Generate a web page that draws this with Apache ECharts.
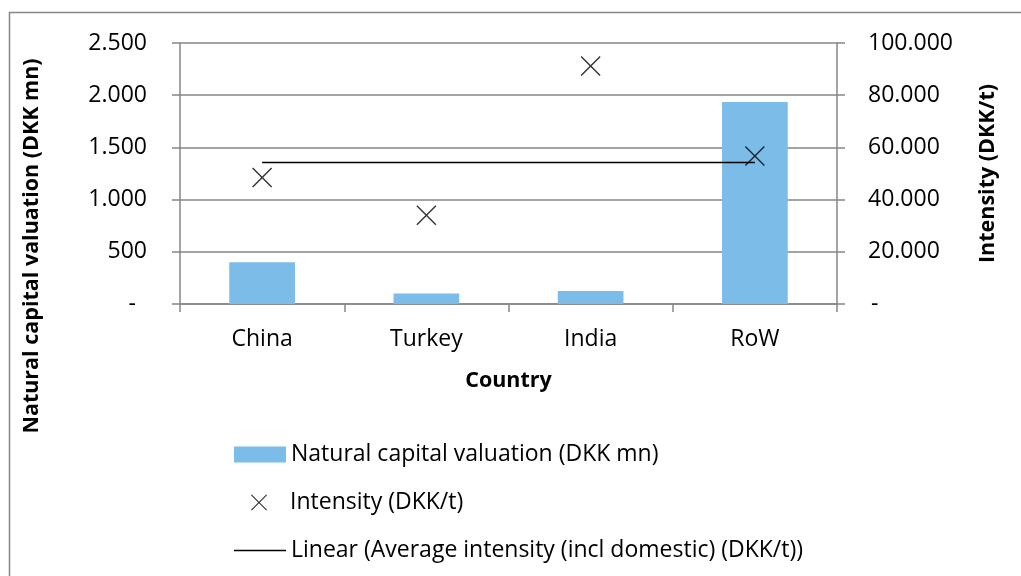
<!DOCTYPE html>
<html>
<head>
<meta charset="utf-8">
<script src="https://cdn.jsdelivr.net/npm/echarts@6/dist/echarts.min.js"></script>
<style>
  html, body { margin: 0; padding: 0; background: #fff; }
  #chart { width: 1021px; height: 576px; }
</style>
</head>
<body>
<div id="chart"></div>
<script>
// ---- data ----
const categories = ['China', 'Turkey', 'India', 'RoW'];
const valuation = [400, 100, 125, 1935];          // DKK mn (left axis)
const intensity = [48450, 34000, 91150, 56700];   // DKK/t (right axis)
const avgIntensity = [54200, 54200, 54200, 54200]; // linear trend (right axis)
const leftTicks = [0, 500, 1000, 1500, 2000, 2500];
const rightTicks = [0, 20000, 40000, 60000, 80000, 100000];

const seriesNames = [
  'Natural capital valuation (DKK mn)',
  'Intensity (DKK/t)',
  'Linear (Average intensity (incl domestic) (DKK/t))'
];

const FONT = '"Open Sans", Lato, sans-serif';
const FS = 23;     // regular text
const FSB = 21.5;  // bold titles
const GRID_COLOR = '#868686';
const X_PATH = 'path://M0,5 L5,0 L50,45 L95,0 L100,5 L55,50 L100,95 L95,100 L50,55 L5,100 L0,95 L45,50 Z';

function fmt(v) {
  return String(v).replace(/\B(?=(\d{3})+(?!\d))/g, '.');
}

const chart = echarts.init(document.getElementById('chart'), null, { renderer: 'canvas' });

const legendText = { fontSize: FS, color: '#000', fontFamily: FONT };

const option = {
  animation: false,
  backgroundColor: '#fff',
  textStyle: { fontFamily: FONT },
  grid: { left: 180, right: 184, top: 43, height: 261, containLabel: false },
  graphic: [
    {
      type: 'rect',
      shape: { x: 9.5, y: 12.5, width: 1100, height: 700 },
      style: { fill: 'none', stroke: GRID_COLOR, lineWidth: 1.5 },
      silent: true, z: -1
    },
    {
      type: 'text',
      x: 32, y: 246,
      rotation: Math.PI / 2,
      style: {
        text: 'Natural capital valuation (DKK mn)',
        font: 'bold ' + FSB + 'px ' + FONT,
        fill: '#000',
        align: 'center',
        verticalAlign: 'middle'
      }
    }
  ],
  legend: [
    {
      data: [seriesNames[0]],
      left: 234, top: 443, padding: 0,
      itemWidth: 52, itemHeight: 16,
      icon: 'rect',
      textStyle: legendText,
      selectedMode: false
    },
    {
      data: [{ name: seriesNames[1], icon: X_PATH }],
      left: 251, top: 491, padding: 0,
      itemWidth: 52, itemHeight: 16,
      itemStyle: { color: '#000', borderWidth: 0 },
      textStyle: legendText,
      selectedMode: false
    },
    {
      data: [{ name: seriesNames[2], icon: 'rect' }],
      left: 234, top: 539, padding: 0,
      itemWidth: 52, itemHeight: 1.5,
      itemStyle: { color: '#000', borderWidth: 0 },
      textStyle: legendText,
      selectedMode: false
    }
  ],
  xAxis: {
    type: 'category',
    data: categories,
    name: 'Country',
    nameLocation: 'middle',
    nameGap: 66,
    nameTextStyle: { fontSize: FSB, fontWeight: 'bold', color: '#000', fontFamily: FONT },
    axisLine: { lineStyle: { color: GRID_COLOR, width: 1.5 } },
    axisTick: { show: true, length: 8, lineStyle: { color: GRID_COLOR, width: 1.5 } },
    axisLabel: { fontSize: FS, color: '#000', margin: 24, fontFamily: FONT },
    splitLine: { show: false }
  },
  yAxis: [
    {
      type: 'value',
      min: leftTicks[0], max: leftTicks[leftTicks.length - 1], interval: 500,
      position: 'left',
      axisLine: { show: true, lineStyle: { color: GRID_COLOR, width: 1.5 } },
      axisTick: { show: true, length: 8, lineStyle: { color: GRID_COLOR, width: 1.5 } },
      axisLabel: {
        fontSize: FS, color: '#000', margin: 33, fontFamily: FONT,
        formatter: v => v === 0 ? '{d|-}' : fmt(v),
        rich: { d: { fontSize: FS, color: '#000', fontFamily: FONT, padding: [0, 11, 0, 0] } }
      },
      splitLine: { show: true, lineStyle: { color: GRID_COLOR, width: 1.5 } }
    },
    {
      type: 'value',
      min: rightTicks[0], max: rightTicks[rightTicks.length - 1], interval: 20000,
      position: 'right',
      name: 'Intensity (DKK/t)',
      nameLocation: 'middle',
      nameRotate: 90,
      nameGap: 140,
      nameTextStyle: { fontSize: FSB, fontWeight: 'bold', color: '#000', fontFamily: FONT },
      axisLine: { show: true, lineStyle: { color: GRID_COLOR, width: 1.5 } },
      axisTick: { show: true, length: 8, lineStyle: { color: GRID_COLOR, width: 1.5 } },
      axisLabel: {
        fontSize: FS, color: '#000', margin: 31, fontFamily: FONT,
        formatter: v => v === 0 ? '{d|-}' : fmt(v),
        rich: { d: { fontSize: FS, color: '#000', fontFamily: FONT, padding: [0, 0, 0, 3] } }
      },
      splitLine: { show: false }
    }
  ],
  series: [
    {
      name: seriesNames[0],
      type: 'bar',
      yAxisIndex: 0,
      data: valuation,
      barCategoryGap: '60%',
      itemStyle: { color: '#7BBDE8' },
      z: 2
    },
    {
      name: seriesNames[1],
      type: 'scatter',
      yAxisIndex: 1,
      data: intensity,
      symbol: X_PATH,
      symbolSize: 20,
      itemStyle: { color: '#000' },
      z: 4
    },
    {
      name: seriesNames[2],
      type: 'line',
      yAxisIndex: 1,
      data: avgIntensity,
      symbol: 'none',
      showSymbol: false,
      lineStyle: { color: '#000', width: 1.5 },
      itemStyle: { color: '#000' },
      z: 3
    }
  ]
};

chart.setOption(option);
</script>
</body>
</html>
